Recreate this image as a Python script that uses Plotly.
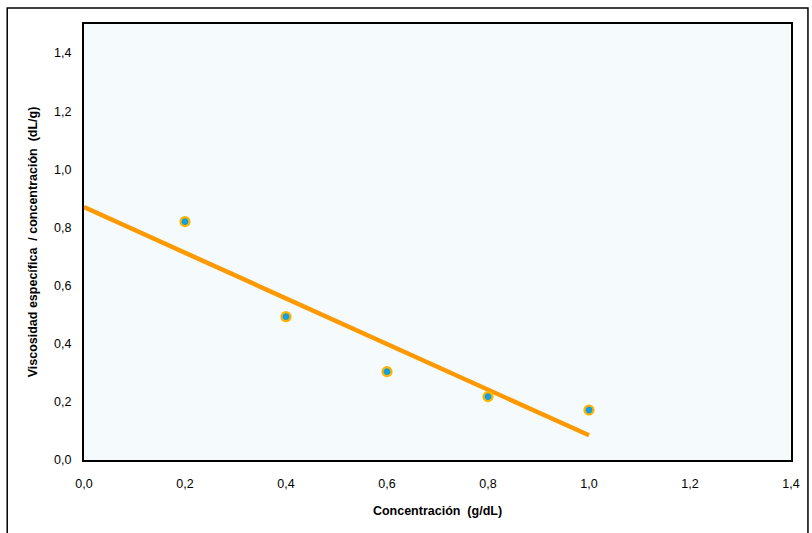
import plotly.graph_objects as go

conc = [0.2, 0.4, 0.6, 0.8, 1.0]
visc_red = [0.820, 0.493, 0.304, 0.218, 0.172]
trend_x = [0.0, 1.0]
trend_y = [0.870, 0.085]

x_ticks = [0.0, 0.2, 0.4, 0.6, 0.8, 1.0, 1.2, 1.4]
y_ticks = [0.0, 0.2, 0.4, 0.6, 0.8, 1.0, 1.2, 1.4]

fig = go.Figure()
fig.add_trace(go.Scatter(
    x=trend_x, y=trend_y, mode="lines",
    line=dict(color="#FF9900", width=4.5),
    hoverinfo="skip", showlegend=False, cliponaxis=True,
))
fig.add_trace(go.Scatter(
    x=conc, y=visc_red, mode="markers",
    marker=dict(size=9, color="#14A0DE", line=dict(color="#FFB400", width=2.2)),
    showlegend=False,
))

L, R, T, B = 84, 19, 24, 73
W, H = 812, 533
pw, ph = W - L - R, H - T - B

fig.update_layout(
    width=W, height=H,
    margin=dict(l=L, r=R, t=T, b=B),
    paper_bgcolor="white",
    plot_bgcolor="#F5FAFD",
    separators=",.",
    font=dict(family="Liberation Sans, Arial, sans-serif", size=12.5, color="black"),
    xaxis=dict(
        range=[0, 1.4], tickvals=x_ticks, tickformat=".1f",
        showgrid=False, zeroline=False, ticks="",
        showline=True, linecolor="black", linewidth=2, mirror=True,
        title=dict(text="<b>Concentración  (g/dL)</b>", font=dict(size=12.5), standoff=16),
        ticklabelstandoff=11,
    ),
    yaxis=dict(
        range=[0, 1.5], tickvals=y_ticks, tickformat=".1f",
        showgrid=False, zeroline=False, ticks="",
        showline=True, linecolor="black", linewidth=2, mirror=True,
        title=dict(text="<b>Viscosidad específica  / concentración  (dL/g)</b>", font=dict(size=12.5), standoff=14),
        ticklabelstandoff=8,
    ),
    shapes=[dict(
        type="rect", xref="paper", yref="paper",
        x0=(7 - L) / pw, x1=(810 - L) / pw,
        y0=(H - B - 545) / ph, y1=(H - B - 8) / ph,
        line=dict(color="black", width=1.5), fillcolor="rgba(0,0,0,0)", layer="below",
    )],
)

fig.write_html("out.html")
